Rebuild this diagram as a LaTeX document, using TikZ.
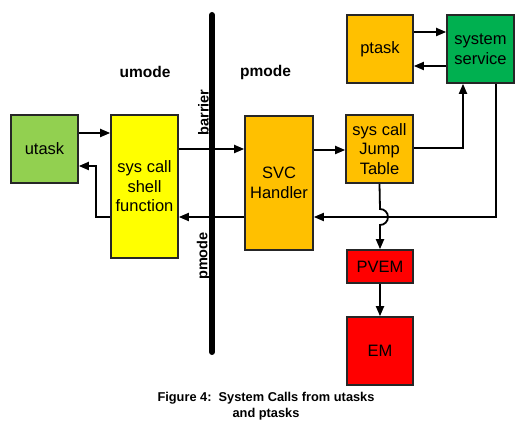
\documentclass[tikz,border=0pt]{standalone}
\usepackage{fontspec}
\setmainfont{Liberation Sans}
\usetikzlibrary{arrows.meta}
\definecolor{ugreen}{RGB}{146,208,80}
\definecolor{sgreen}{RGB}{0,176,80}
\definecolor{orangeb}{RGB}{255,192,0}
\definecolor{yellowb}{RGB}{255,255,0}
\definecolor{redb}{RGB}{255,0,0}
\begin{document}
\begin{tikzpicture}[x=1pt,y=-1pt,
  box/.style={draw=black!85, line width=1.6pt, align=center, inner sep=0pt,
    font=\fontsize{16.5}{19.5}\selectfont},
  arr/.style={line width=1.8pt, -{Triangle[length=10pt,width=8pt]}},
  lbl/.style={font=\bfseries\fontsize{15.5}{18}\selectfont, inner sep=0pt},
  vlbl/.style={font=\bfseries\fontsize{14.5}{17}\selectfont, inner sep=0pt, rotate=90},
  captext/.style={font=\bfseries\fontsize{12.8}{15}\selectfont, inner sep=0pt}]
\useasboundingbox (0,0) rectangle (527,430);
% boxes
\node[box, fill=ugreen, minimum width=67pt, minimum height=68pt] (utask) at (44.5,149) {utask};
\node[box, fill=yellowb, minimum width=67pt, minimum height=143pt] (shell) at (144.5,186.5) {sys call\\shell\\function};
\node[box, fill=orangeb, minimum width=68pt, minimum height=134pt] (svc) at (279,183) {SVC\\Handler};
\node[box, fill=orangeb, minimum width=67pt, minimum height=68pt] (jump) at (379.5,149) {sys call\\Jump\\Table};
\node[box, fill=orangeb, minimum width=66pt, minimum height=68pt] (ptask) at (380,49) {ptask};
\node[box, fill=sgreen, minimum width=67pt, minimum height=68pt] (service) at (480.5,49) {system\\service};
\node[box, fill=redb, minimum width=66pt, minimum height=33pt] (pvem) at (380,266.5) {PVEM};
\node[box, fill=redb, minimum width=66pt, minimum height=68pt] (em) at (380,351) {EM};
% barrier
\coordinate (btop) at (212,15);
\coordinate (bbot) at (212,352);
\draw[line width=6pt, line cap=round] (btop) -- (bbot);
\node[vlbl] (barrier) at (203.5,112.5) {barrier};
\node[vlbl] (pmodev) at (203.5,256) {pmode};
\node[lbl] (umode) at (145,72) {umode};
\node[lbl] (pmodeh) at (265.5,72) {pmode};
% connectors
\draw[arr] (utask.east |- 0,133) -- (shell.west |- 0,133);
\draw[arr] (shell.west |- 0,217) -| (96,166) -- (utask.east |- 0,166);
\draw[arr] (shell.east |- 0,149) -- (svc.west |- 0,149);
\draw[arr] (svc.west |- 0,217) -- (shell.east |- 0,217);
\draw[arr] (svc.east |- 0,150) -- (jump.west |- 0,150);
\draw[arr] (jump.east |- 0,148) -| ([xshift=-17.5pt]service.south);
\draw[arr] ([xshift=15.5pt]service.south) |- (svc.east |- 0,217);
\draw[arr] (jump.south) -- (380,209) arc[start angle=-90, end angle=90, radius=8] -- (pvem.north);
\draw[arr] (pvem.south) -- (em.north);
\draw[arr] (ptask.east |- 0,32) -- (service.west |- 0,32);
\draw[arr] (service.west |- 0,66) -- (ptask.east |- 0,66);
% caption
\node[captext] (cap1) at (266,398) {Figure 4:\ \ System Calls from utasks};
\node[captext] (cap2) at (266,414) {and ptasks};
\end{tikzpicture}
\end{document}
